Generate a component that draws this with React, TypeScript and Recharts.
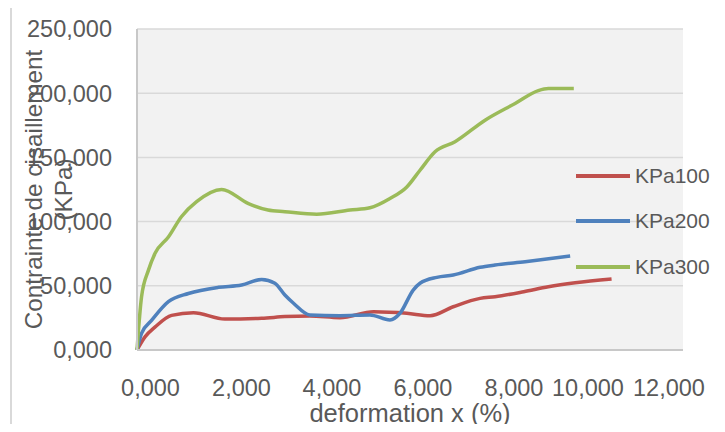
import React from 'react';
import { LineChart, Line, XAxis, YAxis, CartesianGrid, Legend, Label } from 'recharts';

const kpa100X = [0, 0.18, 0.4, 0.76, 1.24, 1.93, 2.74, 3.25, 3.8, 4.46, 5.2, 5.93, 6.44, 6.95, 7.54, 7.87, 8.5, 9.04, 9.63, 10.43];
const kpa100Y = [0, 10.4, 18, 27, 29, 24.1, 24.7, 26, 26.5, 25.2, 29.8, 28.6, 26.7, 33.7, 40.2, 41.5, 45.4, 49.3, 52.4, 55.3];

const kpa200X = [0, 0.1, 0.32, 0.69, 1.13, 1.79, 2.3, 2.74, 3.03, 3.25, 3.44, 3.8, 4.46, 5.12, 5.56, 5.78, 6.07, 6.22, 6.59, 6.95, 7.54, 7.87, 8.53, 9.52];
const kpa200Y = [0, 13, 23, 37.6, 44, 48.8, 50.6, 55, 52, 42.8, 36.4, 27.3, 26.7, 27.3, 23.4, 28.6, 46.7, 52, 56.6, 58.4, 64.4, 66.2, 68.8, 73.2];

const kpa300X = [0, 0.1, 0.25, 0.4, 0.69, 0.98, 1.31, 1.86, 2.45, 2.88, 3.25, 3.95, 4.68, 5.12, 5.56, 5.93, 6.22, 6.55, 6.99, 7.65, 8.31, 8.82, 9.04, 9.6];
const kpa300Y = [0, 41.5, 62, 75.5, 88, 104, 115.5, 125, 114, 109, 107.7, 105.7, 109, 110.8, 118, 127, 140, 154.4, 162.2, 179, 192, 202, 203.6, 203.6];

const xTicks = [0, 2, 4, 6, 8, 10, 12];
const yTicks = [0, 50, 100, 150, 200, 250];

const seriesNames = ['KPa100', 'KPa200', 'KPa300'];
const seriesColors = ['#C0504D', '#4F81BD', '#9BBB59'];

const toPoints = (xs: number[], ys: number[]) => xs.map((x, i) => ({ x, y: ys[i] }));
const seriesData = [toPoints(kpa100X, kpa100Y), toPoints(kpa200X, kpa200Y), toPoints(kpa300X, kpa300Y)];

const FONT = '"Liberation Sans", Arial, sans-serif';
const TEXT = '#595959';

const fmt = (v: number) => v.toFixed(3).replace('.', ',');

const xLabelShift: Record<number, number> = { 0: 13.5, 2: 13.5, 4: 13, 6: 13, 8: 13, 10: -4, 12: -14 };

const XTick = (props: any) => {
  const { x, y, payload } = props;
  const dx = xLabelShift[payload.value] ?? 0;
  return (
    <text x={x + dx} y={y} dy="0.71em" textAnchor="middle" fill={TEXT} fontSize={23.5} fontFamily={FONT}>
      {fmt(payload.value)}
    </text>
  );
};

const YTitle = (props: any) => {
  const vb = props.viewBox || {};
  const cy = vb.y + vb.height / 2;
  const bx = vb.x + 42;
  return (
    <text
      x={bx}
      y={cy}
      transform={`rotate(-90, ${bx}, ${cy})`}
      textAnchor="middle"
      fill={TEXT}
      fontSize={24.3}
      fontFamily={FONT}
    >
      <tspan x={bx} dy={0}>Contrainte de cisaillement</tspan>
      <tspan x={bx} dy={30}>(KPa)</tspan>
    </text>
  );
};

const LegendContent = () => (
  <div style={{ fontFamily: FONT, fontSize: 21, color: TEXT }}>
    {seriesNames.map((n, i) => (
      <div key={n} style={{ display: 'flex', alignItems: 'center', height: 45.5 }}>
        <svg width={54} height={6} style={{ display: 'block' }}>
          <line x1={0} y1={3} x2={54} y2={3} stroke={seriesColors[i]} strokeWidth={4} />
        </svg>
        <span style={{ marginLeft: 5, lineHeight: '24px', whiteSpace: 'nowrap' }}>{n}</span>
      </div>
    ))}
  </div>
);

export default function App() {
  return (
    <div style={{ position: 'relative', width: 725, height: 432, margin: -8, overflow: 'hidden', background: '#fff' }}>
      <div
        style={{
          position: 'absolute',
          left: 10,
          top: 6,
          width: 760,
          height: 480,
          border: '2px solid #D9D9D9',
          boxSizing: 'border-box',
        }}
      />
      <div style={{ position: 'absolute', left: 0, top: 0 }}>
        <LineChart width={725} height={432} margin={{ top: 29, right: 42, bottom: 0, left: 0 }}>
          <CartesianGrid vertical={false} fill="#F2F2F2" stroke="#D9D9D9" strokeWidth={1.5} />
          <XAxis
            type="number"
            dataKey="x"
            domain={[0, 12]}
            ticks={xTicks}
            height={82}
            tickLine={false}
            tickSize={0}
            tickMargin={29}
            axisLine={{ stroke: '#C8C8C8', strokeWidth: 2 }}
            tick={<XTick />}
            interval={0}
          >
            <Label
              value="deformation x (%)"
              position="insideBottom"
              offset={10}
              fill={TEXT}
              fontSize={25.5}
              fontFamily={FONT}
            />
          </XAxis>
          <YAxis
            type="number"
            domain={[0, 250]}
            ticks={yTicks}
            width={137}
            tickLine={false}
            tickSize={0}
            tickMargin={25}
            axisLine={{ stroke: '#C8C8C8', strokeWidth: 2 }}
            tickFormatter={fmt}
            tick={{ fill: TEXT, fontSize: 23.5, fontFamily: FONT }}
            interval={0}
          >
            <Label content={<YTitle />} />
          </YAxis>
          {seriesData.map((d, i) => (
            <Line
              key={seriesNames[i]}
              data={d}
              dataKey="y"
              name={seriesNames[i]}
              type="monotone"
              stroke={seriesColors[i]}
              strokeWidth={3.5}
              dot={false}
              activeDot={false}
              isAnimationActive={false}
            />
          ))}
          <Legend
            layout="vertical"
            align="center"
            verticalAlign="middle"
            content={<LegendContent />}
            wrapperStyle={{ left: 576, top: 153, width: 'auto' }}
          />
        </LineChart>
      </div>
    </div>
  );
}
